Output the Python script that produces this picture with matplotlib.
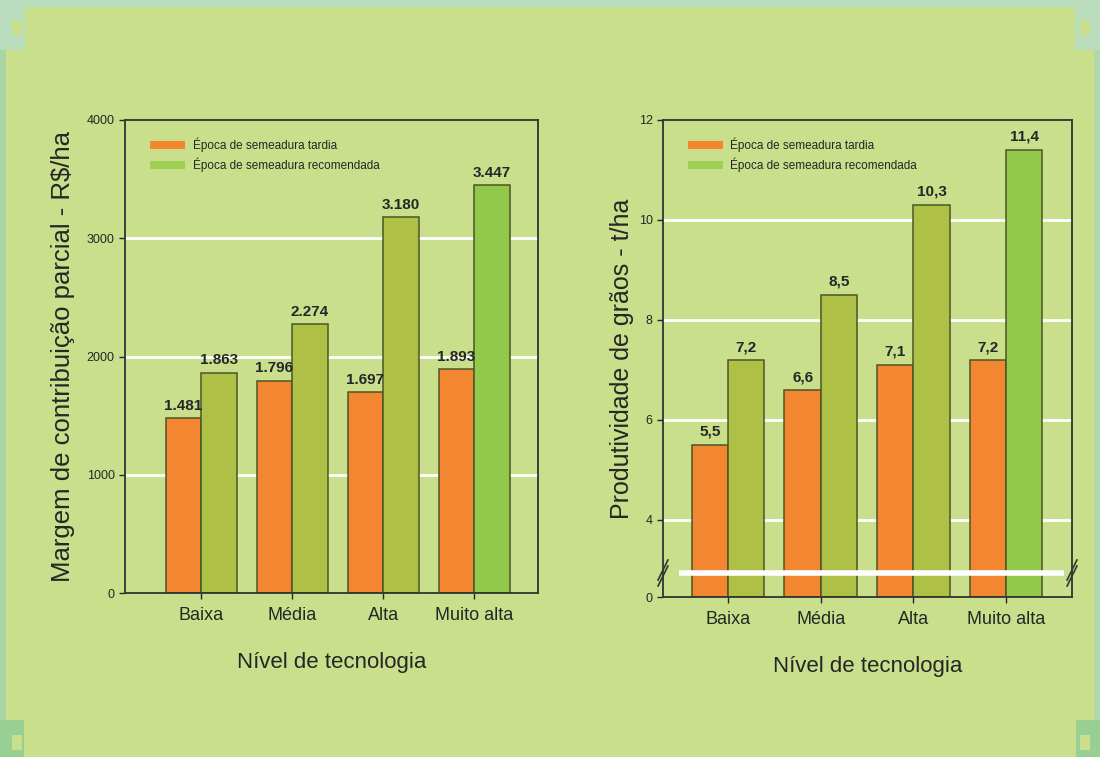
import matplotlib
matplotlib.use('Agg')
import matplotlib.pyplot as plt
from matplotlib.patches import Patch, Rectangle
import numpy as np

# data
categorias = ['Baixa', 'Média', 'Alta', 'Muito alta']
margem_tardia = [1481, 1796, 1697, 1893]
margem_recomendada = [1863, 2274, 3180, 3447]
prod_tardia = [5.5, 6.6, 7.1, 7.2]
prod_recomendada = [7.2, 8.5, 10.3, 11.4]
legenda = ['Época de semeadura tardia', 'Época de semeadura recomendada']
margem_ticks = [0, 1000, 2000, 3000, 4000]
prod_ticks = [4, 6, 8, 10, 12]

BG = '#c9df8c'
ORANGE = '#f28631'
OLIVE = '#aec045'
GREEN = '#93c94a'
LEG_GREEN = '#9dd155'
EDGE = '#4b5528'
TXT = '#262626'

plt.rcParams['font.family'] = ['Liberation Sans', 'DejaVu Sans']
NARROW = ['Liberation Sans Narrow', 'Liberation Sans', 'DejaVu Sans']

fig = plt.figure(figsize=(11, 7.57), dpi=100, facecolor=BG)


def frame_rect(x0, y0, x1, y1, c):
    # pixel box on the figure, y measured from the top
    fig.patches.append(Rectangle((x0 / 1100, 1 - y1 / 757), (x1 - x0) / 1100, (y1 - y0) / 757,
                                 transform=fig.transFigure, color=c, zorder=-10, lw=0))


# decorative frame
MINT = '#b8dcbc'
frame_rect(0, 0, 1100, 7, MINT)
frame_rect(0, 0, 25, 50, MINT)
frame_rect(1075, 0, 1100, 50, MINT)
frame_rect(12, 20, 22, 35, BG)
frame_rect(1080, 20, 1090, 35, BG)
frame_rect(0, 50, 6, 757, '#a9d5a4')
frame_rect(1094, 50, 1100, 757, '#b0d8ac')
frame_rect(0, 720, 24, 757, '#98cf93')
frame_rect(1076, 720, 1100, 757, '#98cf93')
frame_rect(12, 735, 22, 750, BG)
frame_rect(1080, 735, 1090, 750, BG)

x = np.arange(len(categorias))
w = 0.39


def style_axes(ax):
    ax.set_facecolor('none')
    for s in ax.spines.values():
        s.set_color('#333333')
        s.set_linewidth(1.3)
    ax.tick_params(axis='y', direction='out', length=4, labelsize=9, colors=TXT, width=1)
    ax.tick_params(axis='x', direction='out', length=4, labelsize=13, colors=TXT, width=1, pad=6)
    ax.set_xticks(x)
    ax.set_xticklabels(categorias)
    ax.set_axisbelow(True)
    ax.set_xlabel('Nível de tecnologia', fontsize=16, color=TXT, labelpad=20)
    ax.legend(handles=[Patch(facecolor=ORANGE, edgecolor='none'),
                       Patch(facecolor=LEG_GREEN, edgecolor='none')],
              labels=legenda, loc='upper left', bbox_to_anchor=(0.035, 0.985),
              frameon=False, prop={'family': NARROW, 'size': 8.5},
              handlelength=3.0, handleheight=0.6, labelspacing=0.45,
              handletextpad=0.6, labelcolor=TXT)


# ---- left chart
ax1 = fig.add_axes([125 / 1100, 1 - 593 / 757, 413 / 1100, 473 / 757])
rec_colors = [OLIVE, OLIVE, OLIVE, GREEN]
b1 = ax1.bar(x - w / 2, margem_tardia, w, color=ORANGE, edgecolor=EDGE, linewidth=1.1)
b2 = ax1.bar(x + w / 2, margem_recomendada, w, color=rec_colors, edgecolor=EDGE, linewidth=1.1)
ax1.set_ylim(0, 4000)
ax1.set_xlim(-0.835, 3.70)
ax1.set_yticks(margem_ticks)
for v in margem_ticks[1:-1]:
    ax1.axhline(v, color='white', linewidth=2, zorder=0.5)
for bars, vals in [(b1, margem_tardia), (b2, margem_recomendada)]:
    for r, v in zip(bars, vals):
        ax1.text(r.get_x() + r.get_width() / 2, v + 45, f'{v:,}'.replace(',', '.'),
                 ha='center', va='bottom', fontsize=11, fontweight='bold',
                 family=NARROW, color=TXT)
ax1.set_ylabel('Margem de contribuição parcial - R$/ha', fontsize=18.5, color=TXT, labelpad=8)
style_axes(ax1)

# ---- right chart (broken axis)
base = 2.46
ax2 = fig.add_axes([663 / 1100, 1 - 597 / 757, 409 / 1100, 477 / 757])
p_t = np.array(prod_tardia) - base
p_r = np.array(prod_recomendada) - base
b3 = ax2.bar(x - w / 2, p_t, w, bottom=base, color=ORANGE, edgecolor=EDGE, linewidth=1.1)
b4 = ax2.bar(x + w / 2, p_r, w, bottom=base, color=rec_colors, edgecolor=EDGE, linewidth=1.1)
ax2.set_ylim(base, 12)
ax2.set_xlim(-0.70, 3.71)
ax2.set_yticks([base] + prod_ticks)
ax2.set_yticklabels(['0'] + [str(t) for t in prod_ticks])
for v in prod_ticks[:-1]:
    ax2.axhline(v, color='white', linewidth=2, zorder=0.5)
for bars, vals in [(b3, prod_tardia), (b4, prod_recomendada)]:
    for r, v in zip(bars, vals):
        ax2.text(r.get_x() + r.get_width() / 2, v + 0.12, f'{v:.1f}'.replace('.', ','),
                 ha='center', va='bottom', fontsize=11, fontweight='bold',
                 family=NARROW, color=TXT)
ax2.set_ylabel('Produtividade de grãos - t/ha', fontsize=18, color=TXT, labelpad=3)
style_axes(ax2)

# break line and marks
ax2.plot([0.04, 0.98], [2.94, 2.94], color='white', linewidth=4,
         transform=ax2.get_yaxis_transform(), zorder=5, solid_capstyle='butt')
for xs in (0.0, 1.0):
    for dy in (-0.06, 0.06):
        ax2.plot([xs - 0.012, xs + 0.012], [2.94 + dy - 0.2, 2.94 + dy + 0.2],
                 color='#333333', linewidth=1.2, transform=ax2.get_yaxis_transform(),
                 clip_on=False, zorder=6)

fig.savefig('out.png', dpi=100, facecolor=BG)
